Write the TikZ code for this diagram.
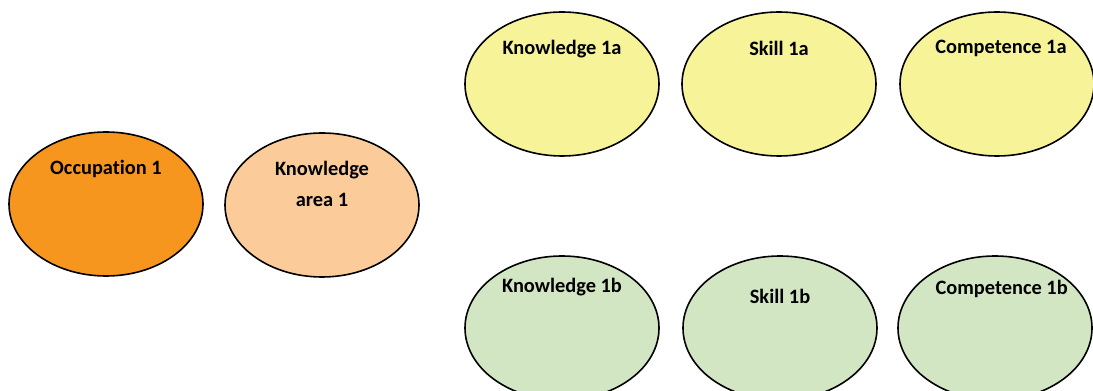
\documentclass[tikz,border=0pt]{standalone}
\usepackage{fontspec}
\setmainfont[Ligatures=NoCommon]{Carlito}
\usetikzlibrary{shapes.geometric}
\definecolor{occorange}{RGB}{247,150,30}
\definecolor{areapeach}{RGB}{251,203,153}
\definecolor{rowyellow}{RGB}{246,243,153}
\definecolor{rowgreen}{RGB}{211,230,196}
\begin{document}
\begin{tikzpicture}[x=0.75pt,y=-0.75pt,
    blob/.style={ellipse, draw=black, line width=1.2pt, minimum width=145.5pt, minimum height=108pt, inner sep=0pt},
    tag/.style={font=\fontsize{15.3}{23}\selectfont\bfseries, align=center, inner sep=0pt}]
      \clip (0,0) rectangle (1093,391);

      \node[blob, fill=occorange] (occ) at (106,204) {};
      \node[tag] (occtxt) at ([yshift=26pt]occ.center) {Occupation 1};
      \node[blob, fill=areapeach] (area) at (322,205) {};
      \node[tag] (areatxt) at ([yshift=16pt]area.center) {Knowledge\\area 1};

      \node[blob, fill=rowyellow] (knowa) at (562,84) {};
      \node[tag] (knowatxt) at ([yshift=26.5pt]knowa.center) {Knowledge 1a};
      \node[blob, fill=rowyellow] (skilla) at (779,84) {};
      \node[tag] (skillatxt) at ([yshift=26.5pt]skilla.center) {Skill 1a};
      \node[blob, fill=rowyellow] (compa) at (997,84) {};
      \node[tag] (compatxt) at ([xshift=3pt,yshift=26.5pt]compa.center) {Competence 1a};

      \node[blob, fill=rowgreen] (knowb) at (562,328) {};
      \node[tag] (knowbtxt) at ([yshift=31pt]knowb.center) {Knowledge 1b};
      \node[blob, fill=rowgreen] (skillb) at (780,328) {};
      \node[tag] (skillbtxt) at ([yshift=24pt]skillb.center) {Skill 1b};
      \node[blob, fill=rowgreen] (compb) at (995,328) {};
      \node[tag] (compbtxt) at ([xshift=5pt,yshift=29.5pt]compb.center) {Competence 1b};
    \end{tikzpicture}
\end{document}
